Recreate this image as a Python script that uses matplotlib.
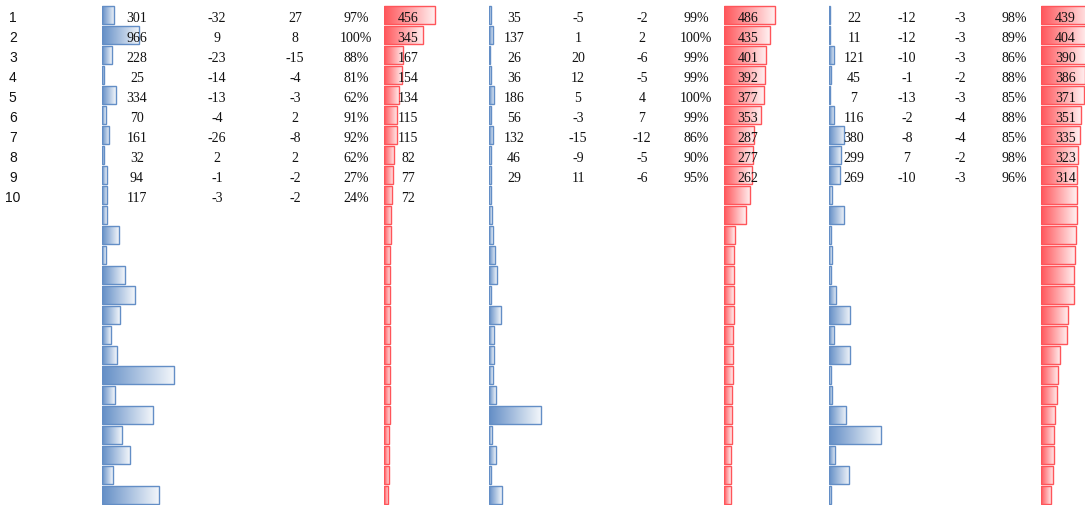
import numpy as np
import matplotlib.pyplot as plt
from matplotlib.colors import LinearSegmentedColormap, to_rgb

# ---- data -------------------------------------------------------------
row_labels = [str(i) for i in range(1, 11)]

# group 1 (10 labelled rows, bars run for 25 rows)
g1_bar = [301, 966, 228, 25, 334, 70, 161, 32, 94, 117,
          96, 416, 69, 576, 843, 443, 203, 363, 1883, 309, 1323, 496, 709, 256, 1483]
g1_chg_a = [-32, 9, -23, -14, -13, -4, -26, 2, -1, -3]
g1_chg_b = [27, 8, -15, -4, -3, 2, -8, 2, -2, -2]
g1_pct = [97, 100, 88, 81, 62, 91, 92, 62, 27, 24]
g1_top = [456, 345, 167, 154, 134, 115, 115, 82, 77, 72,
          58, 57, 50, 49, 49, 48, 48, 47, 47, 46, 46, 45, 39, 38, 30]

# group 2 (9 labelled rows)
g2_bar = [35, 137, 26, 36, 186, 56, 132, 46, 29, 38,
          77, 119, 228, 287, 35, 455, 161, 161, 119, 245, 2136, 77, 245, 35, 497]
g2_chg_a = [-5, 1, 20, 12, 5, -3, -15, -9, 11]
g2_chg_b = [-2, 2, -6, -5, 4, 7, -12, -5, -6]
g2_pct = [99, 100, 99, 99, 100, 99, 86, 90, 95]
g2_top = [486, 435, 401, 392, 377, 353, 287, 277, 262, 250,
          207, 102, 94, 93, 92, 91, 90, 84, 83, 78, 77, 76, 65, 64, 63]

# group 3 (9 labelled rows)
g3_bar = [22, 11, 121, 45, 7, 116, 380, 299, 269, 54,
          380, 28, 54, 28, 173, 535, 121, 535, 28, 69, 432, 1323, 147, 510, 28]
g3_chg_a = [-12, -12, -10, -1, -13, -2, -8, 7, -10]
g3_chg_b = [-3, -3, -3, -2, -3, -4, -4, -2, -3]
g3_pct = [98, 89, 86, 88, 85, 88, 85, 98, 96]
g3_top = [439, 404, 390, 386, 371, 351, 335, 323, 314, 312,
          311, 307, 298, 290, 289, 238, 229, 168, 150, 142, 124, 116, 115, 107, 90]

# ---- layout -----------------------------------------------------------
W, H = 1085, 506
BLUE = '#638EC6'
RED = '#FF555A'
Y_LIM = (24.485, -0.815)   # row index -> pixel rows (20 px pitch)
BASE = 0.285               # text baseline offset inside a row
SERIF = 'Liberation Serif'


def gradient_cmap(color):
    c = np.array(to_rgb(color))
    end = c + (1 - c) * 0.92
    return LinearSegmentedColormap.from_list('g', [c, end])


def data_bar_column(fig, values, left_px, width_px, scale, pad_px, color):
    """Excel-like data bars: gradient fill plus solid border"""
    ax = fig.add_axes([left_px / W, 0, width_px / W, 1])
    ax.set_axis_off()
    rows = np.arange(len(values))
    pad = pad_px / scale
    vals = np.asarray(values, dtype=float)
    bars = ax.barh(rows, vals + pad, left=-pad, height=0.9,
                   facecolor='none', edgecolor=color, linewidth=1.0, zorder=3)
    cmap = gradient_cmap(color)
    grad = np.linspace(0, 1, 256).reshape(1, -1)
    for b in bars:
        x0, y0, w, h = b.get_x(), b.get_y(), b.get_width(), b.get_height()
        im = ax.imshow(grad, extent=(x0, x0 + w, y0 + h, y0), cmap=cmap,
                       aspect='auto', interpolation='bilinear', zorder=2)
        im.set_clip_path(b)
    ax.set_xlim(-pad, -pad + width_px / scale)
    ax.set_ylim(*Y_LIM)
    return ax


def text_column(ax, x, items, fmt='{}'):
    for r, v in enumerate(items):
        ax.text(x, r + BASE, fmt.format(v), ha='center', va='baseline',
                fontsize=10, family=SERIF, color='#111111')


fig = plt.figure(figsize=(W / 100, H / 100), dpi=100)
fig.patch.set_facecolor('white')

# bar columns: values, left px, axes width px, px per unit, min length px, colour
data_bar_column(fig, g1_bar, 102, 80, 0.0375, 1.1, BLUE)
data_bar_column(fig, g1_top, 383.5, 80, 0.111, 1.0, RED)
data_bar_column(fig, g2_bar, 489, 80, 0.0238, 0.87, BLUE)
data_bar_column(fig, g2_top, 724, 80, 0.105, 0.0, RED)
data_bar_column(fig, g3_bar, 829, 80, 0.0386, 0.63, BLUE)
data_bar_column(fig, g3_top, 1041, 44, 0.115, 0.0, RED)

# text layer on top of the bars
tx = fig.add_axes([0, 0, 1, 1])
tx.set_axis_off()
tx.patch.set_alpha(0)
tx.set_xlim(0, W)
tx.set_ylim(*Y_LIM)

for r, lab in enumerate(row_labels):
    tx.text(12.8, r + BASE, lab, ha='center', va='baseline', fontsize=10,
            family='Liberation Sans', color='#111111')

text_column(tx, 137, g1_bar[:10])
text_column(tx, 217, g1_chg_a)
text_column(tx, 295, g1_chg_b)
text_column(tx, 356, g1_pct, '{}%')
text_column(tx, 408, g1_top[:10])

text_column(tx, 514, g2_bar[:9])
text_column(tx, 578, g2_chg_a)
text_column(tx, 642, g2_chg_b)
text_column(tx, 696, g2_pct, '{}%')
text_column(tx, 748, g2_top[:9])

text_column(tx, 854, g3_bar[:9])
text_column(tx, 907, g3_chg_a)
text_column(tx, 960, g3_chg_b)
text_column(tx, 1014, g3_pct, '{}%')
text_column(tx, 1065.5, g3_top[:9])

plt.savefig('out.png', dpi=100)
